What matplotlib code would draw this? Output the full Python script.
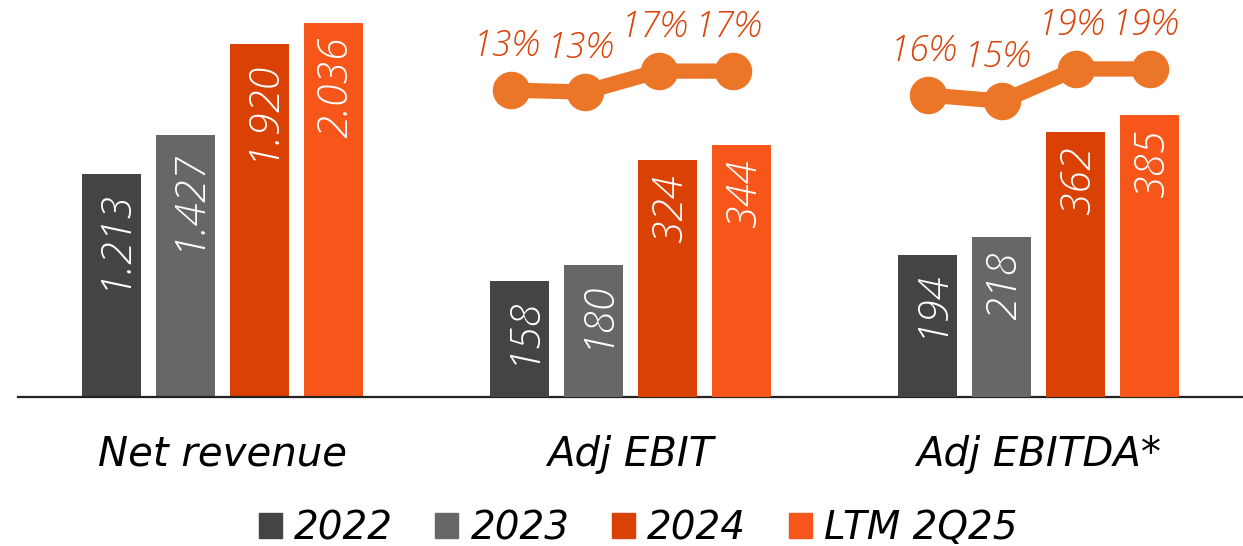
import matplotlib.pyplot as plt
import numpy as np

# data
groups = ['Net revenue', 'Adj EBIT', 'Adj EBITDA*']
years = ['2022', '2023', '2024', 'LTM 2Q25']
net_revenue = [1213, 1427, 1920, 2036]
adj_ebit = [158, 180, 324, 344]
adj_ebitda = [194, 218, 362, 385]
revenue_labels = ['1.213', '1.427', '1.920', '2.036']
ebit_margin = [13.0, 12.6, 16.9, 16.9]
ebitda_margin = [16.0, 15.3, 18.9, 18.9]
ebit_margin_labels = ['13%', '13%', '17%', '17%']
ebitda_margin_labels = ['16%', '15%', '19%', '19%']

colors = ['#444444', '#676767', '#D94105', '#F7561B']
line_color = '#EC7628'
margin_text_color = '#D9430A'
NUM_FONT = 'Open Sans'
TXT_FONT = 'DejaVu Sans'

W, H = 1243, 546
fig = plt.figure(figsize=(W / 100, H / 100), dpi=100)
base_px = 397
rect = [18 / W, (H - base_px) / H, (W - 18) / W, base_px / H]

ax = fig.add_axes(rect)
ax2 = ax.twinx()
step = 74 / 408.5
width = 59 / 408.5
offsets = (np.arange(4) - 1.5) * step

ax.set_xlim(-0.4994, 2.4994)
ax.set_ylim(0, 2161)
ax2.set_ylim(0, 541.6)


def draw_group(axis, gx, values, labels):
    for i, v in enumerate(values):
        x = gx + offsets[i]
        axis.bar(x, v, width, color=colors[i], zorder=2)
        axis.annotate(labels[i], (x, v), xytext=(2, -10), textcoords='offset points',
                      rotation=90, ha='center', va='top', color='white',
                      fontsize=30, fontstyle='italic', fontweight='light', family=NUM_FONT)


draw_group(ax, 0, net_revenue, revenue_labels)
draw_group(ax2, 1, adj_ebit, [str(v) for v in adj_ebit])
draw_group(ax2, 2, adj_ebitda, [str(v) for v in adj_ebitda])


def draw_margin(gx, vals, labels, ylim, shift=0.0):
    m = fig.add_axes(rect)
    m.set_xlim(ax.get_xlim())
    m.set_ylim(*ylim)
    m.axis('off')
    xs = gx + offsets + shift
    m.plot(xs, vals, color=line_color, lw=11, marker='o', ms=26, solid_capstyle='round', zorder=3)
    for x, v, t in zip(xs, vals, labels):
        m.annotate(t, (x, v), xytext=(-3, 32), textcoords='offset points', ha='center', va='center',
                   color=margin_text_color, fontsize=26, fontstyle='italic', fontweight='light',
                   family=NUM_FONT)


draw_margin(1, ebit_margin, ebit_margin_labels, (-50.0, 31.5), shift=-0.022)
draw_margin(2, ebitda_margin, ebitda_margin_labels, (-17.67, 26.59))

for a in (ax, ax2):
    for s in ('top', 'right', 'left'):
        a.spines[s].set_visible(False)
    a.set_yticks([])
ax2.spines['bottom'].set_visible(False)
ax.spines['bottom'].set_linewidth(1.6)
ax.spines['bottom'].set_color('#222222')
ax.set_xticks(range(3))
ax.set_xticklabels(groups, fontsize=29, fontstyle='italic', family=TXT_FONT)
ax.tick_params(axis='x', length=0, pad=27)

handles = [plt.Rectangle((0, 0), 1, 1, color=c) for c in colors]
fig.legend(handles, years, loc='center', bbox_to_anchor=(638 / W, 1 - 528 / H), ncol=4, frameon=False,
           prop={'family': TXT_FONT, 'style': 'italic', 'size': 28}, handlelength=0.59, handleheight=0.62,
           handletextpad=0.31, columnspacing=1.1, borderpad=0)

fig.savefig('out.png', dpi=100)
